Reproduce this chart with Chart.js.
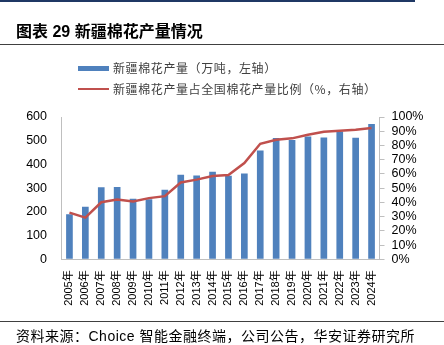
<!DOCTYPE html>
<html>
<head>
<meta charset="utf-8">
<script src="https://cdn.jsdelivr.net/npm/chart.js@4"></script>
<style>
  html, body { margin: 0; padding: 0; background: #fff; }
  #wrap { position: relative; width: 444px; height: 345px; overflow: hidden; font-family: "Liberation Sans", "Noto Sans CJK SC", sans-serif; }
  #c { position: absolute; left: 0; top: 0; }
  .abs { position: absolute; white-space: nowrap; }
  #topline { left: 0; top: 0; width: 415px; height: 2px; background: #1F3864; }
  #title { left: 16px; top: 21px; font-size: 16px; line-height: 22px; font-weight: bold; color: #000; font-family: "Liberation Sans", "Noto Sans CJK SC", sans-serif; }
  #tline { left: 0; top: 44px; width: 444px; height: 1px; background: #404040; }
  .leg { font-size: 12px; line-height: 16px; color: #404040; letter-spacing: 0.6px; font-family: "Noto Sans CJK SC", sans-serif; }
  #sw1 { left: 78px; top: 66px; width: 31px; height: 5px; background: #4F81BD; }
  #sw2 { left: 78px; top: 88px; width: 31px; height: 2px; background: #C0504D; }
  #lt1 { left: 113px; top: 60px; }
  #lt2 { left: 113px; top: 81px; }
  #bline { left: 0; top: 321px; width: 444px; height: 1px; background: #404040; }
  #src { left: 16px; top: 327px; font-size: 14px; line-height: 19px; color: #000; letter-spacing: 0.5px; font-family: "Liberation Sans", "Noto Sans CJK SC", sans-serif; }
</style>
</head>
<body>
<div id="wrap">
  <canvas id="c" width="444" height="345"></canvas>
  <div class="abs" id="topline"></div>
  <div class="abs" id="title">图表 29 新疆棉花产量情况</div>
  <div class="abs" id="tline"></div>
  <div class="abs" id="sw1"></div>
  <div class="abs leg" id="lt1"></div>
  <div class="abs" id="sw2"></div>
  <div class="abs leg" id="lt2"></div>
  <div class="abs" id="bline"></div>
  <div class="abs" id="src">资料来源：Choice 智能金融终端，公司公告，华安证券研究所</div>
</div>
<script>
const years = ["2005年","2006年","2007年","2008年","2009年","2010年","2011年","2012年","2013年","2014年","2015年","2016年","2017年","2018年","2019年","2020年","2021年","2022年","2023年","2024年"];
const production = [190, 222, 304, 305, 255, 253, 293, 356, 353, 369, 352, 362, 459, 511, 503, 518, 514, 539, 512, 570];
const share = [32.8, 29.3, 40.1, 42.0, 40.6, 43.0, 44.4, 54.0, 56.0, 58.5, 59.2, 67.6, 81.2, 84.0, 85.0, 87.5, 89.6, 90.3, 91.0, 92.2];
const seriesNames = ["新疆棉花产量（万吨，左轴）", "新疆棉花产量占全国棉花产量比例（%，右轴）"];

document.getElementById('lt1').textContent = seriesNames[0];
document.getElementById('lt2').textContent = seriesNames[1];

const tickFont = { family: "'Liberation Sans', 'Noto Sans CJK SC', sans-serif", size: 12.5 };
const axisGray = '#BFBFBF';

new Chart(document.getElementById('c'), {
  type: 'bar',
  data: {
    labels: years,
    datasets: [
      {
        type: 'line',
        label: seriesNames[1],
        data: share,
        yAxisID: 'y1',
        borderColor: '#C0504D',
        backgroundColor: '#C0504D',
        borderWidth: 2.5,
        pointRadius: 0,
        tension: 0,
        order: 0
      },
      {
        type: 'bar',
        label: seriesNames[0],
        data: production,
        yAxisID: 'y',
        backgroundColor: '#4F81BD',
        barPercentage: 0.42,
        categoryPercentage: 1.0,
        order: 1
      }
    ]
  },
  options: {
    responsive: false,
    animation: false,
    devicePixelRatio: 1,
    layout: { padding: { top: 117, bottom: 0, left: 0, right: 0 } },
    plugins: { legend: { display: false }, tooltip: { enabled: false }, title: { display: false } },
    scales: {
      x: {
        offset: true,
        grid: { display: true, drawOnChartArea: false, drawTicks: false, color: axisGray },
        border: { display: true, color: axisGray, width: 1 },
        ticks: {
          autoSkip: false, minRotation: 90, maxRotation: 90, padding: 11,
          color: '#000',
          font: { family: "'Liberation Sans', 'Noto Sans CJK SC', sans-serif", size: 11 }
        },
        afterFit: s => { s.height = 85.7; }
      },
      y: {
        position: 'left',
        min: 0, max: 600,
        ticks: { stepSize: 100, autoSkip: false, padding: 14.5, color: '#000', font: tickFont },
        grid: { display: true, drawOnChartArea: false, drawTicks: false, color: axisGray },
        border: { display: true, color: axisGray, width: 1 },
        afterFit: s => { s.width = 61.5; }
      },
      y1: {
        position: 'right',
        min: 0, max: 100,
        ticks: { stepSize: 10, autoSkip: false, padding: 7, color: '#000', font: tickFont, callback: v => v + '%' },
        grid: { display: true, drawOnChartArea: false, drawTicks: true, tickLength: 5, color: axisGray },
        border: { display: true, color: axisGray, width: 1 },
        afterFit: s => { s.width = 64.5; }
      }
    }
  }
});
</script>
</body>
</html>
